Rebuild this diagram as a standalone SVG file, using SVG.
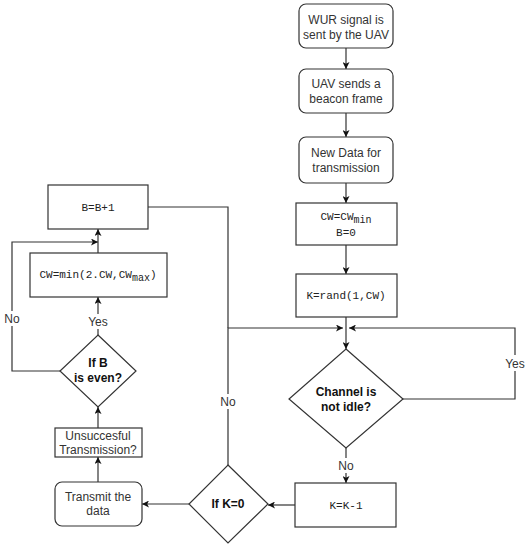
<svg xmlns="http://www.w3.org/2000/svg" width="528" height="550" viewBox="0 0 528 550">
<style>
.box{fill:#fff;stroke:#333;stroke-width:1.2}
.ln{fill:none;stroke:#333;stroke-width:1.2}
.t{font-family:"Liberation Sans",Arial,sans-serif;font-size:12px;fill:#333;text-anchor:middle}
.b{font-family:"Liberation Sans",Arial,sans-serif;font-size:12px;font-weight:bold;fill:#111;text-anchor:middle}
.m{font-family:"Liberation Mono","Courier New",monospace;font-size:11px;fill:#222;text-anchor:middle}
.lbl{font-family:"Liberation Sans",Arial,sans-serif;font-size:12px;fill:#333;text-anchor:middle}
.bg{fill:#fff;stroke:none}
</style>
<defs>
<marker id="ar" markerUnits="userSpaceOnUse" markerWidth="7" markerHeight="7" refX="7" refY="3.5" orient="auto">
<path d="M0,0 L7,3.5 L0,7 L1.8,3.5 z" fill="#111"/>
</marker>
</defs>
<rect width="528" height="550" fill="#fff"/>
<g id="connectors">
<path class="ln" d="M346,48 V69" marker-end="url(#ar)"/>
<path class="ln" d="M346,113 V137" marker-end="url(#ar)"/>
<path class="ln" d="M346,183 V203" marker-end="url(#ar)"/>
<path class="ln" d="M346,245 V274" marker-end="url(#ar)"/>
<path class="ln" d="M346,317 V349" marker-end="url(#ar)"/>
<path class="ln" d="M403,399 H515 V328 H349" marker-end="url(#ar)"/>
<path class="ln" d="M346,448 V483" marker-end="url(#ar)"/>
<path class="ln" d="M295,505 H268" marker-end="url(#ar)"/>
<path class="ln" d="M228,465 V328 H343" marker-end="url(#ar)"/>
<path class="ln" d="M148,207 H228 V328"/>
<path class="ln" d="M189,504 H142" marker-end="url(#ar)"/>
<path class="ln" d="M98,482 V457" marker-end="url(#ar)"/>
<path class="ln" d="M98,428 V407" marker-end="url(#ar)"/>
<path class="ln" d="M98,335 V297" marker-end="url(#ar)"/>
<path class="ln" d="M60,371 H12 V242 H98" marker-end="url(#ar)"/>
<path class="ln" d="M98,253 V229" marker-end="url(#ar)"/>
<rect class="bg" x="503" y="355" width="24" height="16"/>
<text class="lbl" x="515" y="368">Yes</text>
<rect class="bg" x="336" y="458" width="20" height="15"/>
<text class="lbl" x="346" y="470">No</text>
<rect class="bg" x="218" y="394" width="20" height="15"/>
<text class="lbl" x="228" y="406">No</text>
<rect class="bg" x="2" y="311" width="20" height="15"/>
<text class="lbl" x="12" y="323">No</text>
<rect class="bg" x="86" y="314" width="24" height="15"/>
<text class="lbl" x="98" y="326">Yes</text>
</g>
<g id="wur">
<rect class="box" x="299" y="4" width="94" height="44" rx="7"/>
<text class="t" x="346" y="24">WUR signal is</text>
<text class="t" x="346" y="39">sent by the UAV</text>
</g>
<g id="beacon">
<rect class="box" x="299" y="69" width="94" height="44" rx="7"/>
<text class="t" x="346" y="88">UAV sends a</text>
<text class="t" x="346" y="103">beacon frame</text>
</g>
<g id="newdata">
<rect class="box" x="299" y="137" width="94" height="46" rx="7"/>
<text class="t" x="346" y="157">New Data for</text>
<text class="t" x="346" y="172">transmission</text>
</g>
<g id="cwmin">
<rect class="box" x="296" y="203" width="101" height="42"/>
<text class="m" x="346" y="220">CW=CW<tspan font-size="10" dy="3">min</tspan></text>
<text class="m" x="346" y="236">B=0</text>
</g>
<g id="krand">
<rect class="box" x="296" y="274" width="101" height="43"/>
<text class="m" x="346" y="299">K=rand(1,CW)</text>
</g>
<g id="channel">
<polygon class="box" points="346,349 403,399 346,448 289,399"/>
<text class="b" x="346" y="396">Channel is</text>
<text class="b" x="346" y="411">not idle?</text>
</g>
<g id="kminus">
<rect class="box" x="295" y="483" width="101" height="44"/>
<text class="m" x="346" y="509">K=K-1</text>
</g>
<g id="ifk0">
<polygon class="box" points="228,465 268,504 228,543 189,504"/>
<text class="b" x="228" y="508">If K=0</text>
</g>
<g id="transmit">
<rect class="box" x="55" y="482" width="87" height="44" rx="7"/>
<text class="t" x="98" y="501">Transmit the</text>
<text class="t" x="98" y="515">data</text>
</g>
<g id="unsuccess">
<rect class="box" x="55" y="428" width="87" height="29"/>
<text class="t" x="98" y="440">Unsuccesful</text>
<text class="t" x="98" y="454">Transmission?</text>
</g>
<g id="ifb">
<polygon class="box" points="98,335 136,371 98,407 60,371"/>
<text class="b" x="98" y="367">If B</text>
<text class="b" x="98" y="382">is even?</text>
</g>
<g id="cwmax">
<rect class="box" x="30" y="253" width="137" height="44"/>
<text class="m" x="98" y="278">CW=min(2.CW,CW<tspan font-size="10" dy="3">max</tspan><tspan dy="-3">)</tspan></text>
</g>
<g id="bplus">
<rect class="box" x="48" y="185" width="100" height="44"/>
<text class="m" x="98" y="211">B=B+1</text>
</g>
</svg>
